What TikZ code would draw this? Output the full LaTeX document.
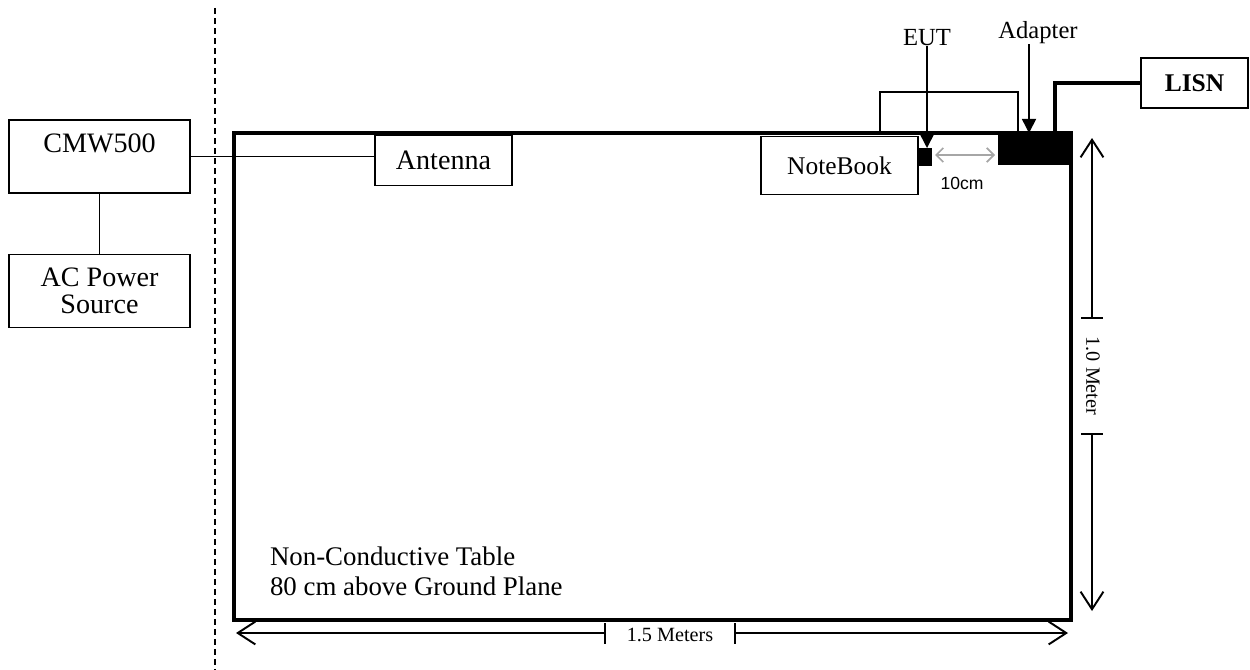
\documentclass[tikz,border=0pt]{standalone}
\usepackage{fontspec}
\setmainfont{Liberation Serif}
\setsansfont{Liberation Sans}
\usepackage{tikz}
\usetikzlibrary{positioning,arrows.meta}
\definecolor{gapgrey}{HTML}{A6A6A6}

\begin{document}
\begin{tikzpicture}[
    x=0.02cm, y=-0.02cm,
    every node/.style={align=center, inner sep=0pt, outer sep=0pt},
    unit/.style={draw, line width=0.9pt, fill=white, font=\fontsize{16}{15.5}\selectfont},
    block/.style={fill=black},
    tag/.style={font=\fontsize{14}{16}\selectfont},
    wire/.style={line width=0.9pt},
    power/.style={line width=2.2pt},
    pointer/.style={line width=0.9pt, -{Triangle[length=8pt,width=8pt]}},
    gapdim/.style={gapgrey, line width=1pt, {Straight Barb[length=4pt,width=8pt]}-{Straight Barb[length=4pt,width=8pt]}},
    dim/.style={line width=1.1pt, -{Straight Barb[length=10pt,width=13pt]}},
    dimtick/.style={line width=1.1pt},
    dimlbl/.style={font=\fontsize{11.5}{13}\selectfont}
  ]
  \useasboundingbox (0,0) rectangle (1250,669);

  % table and the edge of the test zone
  \node[draw, line width=2.2pt, minimum width=16.74cm, minimum height=9.74cm] (table) at (652.5,376.5) {};
  \draw[line width=1pt, dash pattern=on 3.4pt off 2.3pt] (215,8) -- (215,669);

  \node[anchor=west, align=left, font=\fontsize{15.3}{17}\selectfont] (tbllbl) at (270,571)
    {Non-Conductive Table\\80 cm above Ground Plane};

  % test equipment outside the table
  \node[unit, minimum width=3.62cm, minimum height=1.46cm] (cmw) at (99.5,156.5) {CMW500\\\phantom{X}};
  \node[unit, minimum width=3.62cm, minimum height=1.46cm] (acp) at (99.5,291) {AC Power\\Source};
  \node[unit, minimum width=2.74cm, minimum height=1cm] (ant) at (443.5,160.5) {Antenna};

  \draw[wire] (cmw.east) -- (cmw.east -| ant.west);
  \draw[wire] (cmw.south) -- (acp.north);

  % EUT side
  \node[unit, minimum width=3.14cm, minimum height=1.16cm, font=\fontsize{14.5}{16}\selectfont] (nb) at (839.5,165.5) {NoteBook};
  \node[block, minimum width=0.28cm, minimum height=0.36cm] (eut) at (925,157) {};
  \node[block, minimum width=1.46cm, minimum height=0.64cm] (adp) at (1034.5,149) {};
  \node[unit, minimum width=2.14cm, minimum height=1cm, font=\fontsize{14.5}{16}\selectfont\bfseries] (lisn) at (1194.5,83) {LISN};

  \coordinate (nbplug) at (880,133);
  \coordinate (adplug) at (1018,133);
  \draw[wire] (nbplug) |- ++(138,-41) -- (adplug);
  \draw[power] (lisn.west) -| ([xshift=-0.32cm]adp.north east);

  \node[tag] (eutlbl) at (927,38) {EUT};
  \node[tag] (adplbl) at (1038,33) {Adapter};
  \draw[pointer] (eutlbl.south) -- (eutlbl.south |- eut.north);
  \draw[pointer] ([xshift=-0.18cm]adplbl.south) -- ([xshift=-0.18cm]adplbl.south |- adp.north);

  \draw[gapdim] ([xshift=0.06cm,yshift=0.04cm]eut.east) -- ([xshift=-0.06cm,yshift=0.04cm]eut.east -| adp.west);
  \node[font=\sffamily\fontsize{10}{12}\selectfont] (gaplbl) at (962,183) {10cm};

  % dimensions
  \coordinate (wl) at (236,633);
  \coordinate (wr) at (1068,633);
  \node[dimlbl, minimum width=2.6cm] (wlbl) at (670,635) {1.5 Meters};
  \draw[dim] (wlbl.west |- wl) -- (wl);
  \draw[dim] (wlbl.east |- wr) -- (wr);
  \draw[dimtick] ([yshift=-0.21cm]wlbl.west |- wl) -- ([yshift=0.21cm]wlbl.west |- wl);
  \draw[dimtick] ([yshift=-0.21cm]wlbl.east |- wr) -- ([yshift=0.21cm]wlbl.east |- wr);

  \coordinate (ht) at (1092,138);
  \coordinate (hb) at (1092,611);
  \node[dimlbl, rotate=-90, minimum width=2.32cm] (hlbl) at (1093,376) {1.0 Meter};
  \draw[dim] (ht |- hlbl.west) -- (ht);
  \draw[dim] (hb |- hlbl.east) -- (hb);
  \draw[dimtick] ([xshift=-0.22cm]ht |- hlbl.west) -- ([xshift=0.22cm]ht |- hlbl.west);
  \draw[dimtick] ([xshift=-0.22cm]hb |- hlbl.east) -- ([xshift=0.22cm]hb |- hlbl.east);
\end{tikzpicture}
\end{document}
